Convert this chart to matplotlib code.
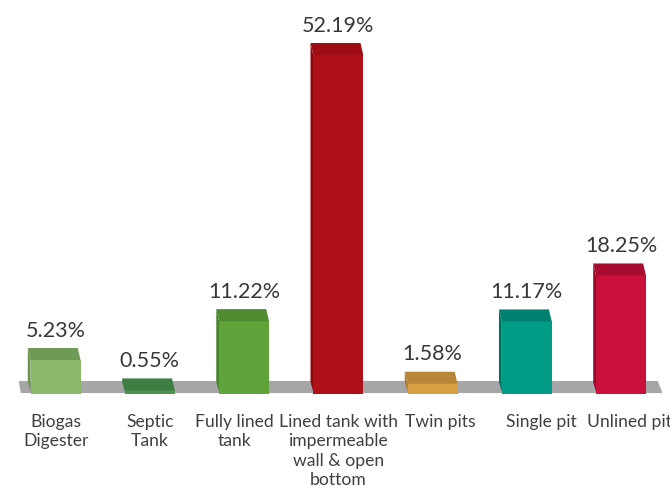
import matplotlib.pyplot as plt
from matplotlib.patches import Polygon

# data
categories = ['Biogas\nDigester', 'Septic\nTank', 'Fully lined\ntank',
              'Lined tank with\nimpermeable\nwall & open\nbottom',
              'Twin pits', 'Single pit', 'Unlined pit']
values = [5.23, 0.55, 11.22, 52.19, 1.58, 11.17, 18.25]
labels = ['5.23%', '0.55%', '11.22%', '52.19%', '1.58%', '11.17%', '18.25%']

front_colors = ['#8BB86A', '#4C9150', '#5FA33A', '#AE1118', '#D9A043', '#009C86', '#C9113B']
top_colors = ['#6F9A55', '#3F7E43', '#4E8B31', '#9D0D13', '#B88637', '#00806F', '#A80C31']
side_colors = ['#6A9450', '#3A7440', '#47822C', '#8E0B10', '#A77830', '#00705F', '#980A2C']

# small horizontal nudges of the category labels (Excel-like wrapping)
label_dx = [0, 0, -0.1, 0, 0.085, 0.15, 0.085]

plt.rcParams['font.family'] = ['Lato', 'DejaVu Sans']

fig = plt.figure(figsize=(6.7, 4.91), dpi=100)
ax = fig.add_axes([0, 0, 1, 1])
ax.set_xlim(-0.59, 6.52)
ax.set_ylim(-14.93, 60.66)
ax.axis('off')

depth = 1.85   # top face depth (value units)
shift = 0.03   # back edge shifted left (x units)
w = 0.53

# floor
n = len(values)
floor = Polygon([(-0.37, 0.15), (6.44, 0.15), (6.39, 2.0), (-0.39, 2.0)],
                closed=True, facecolor='#A6A6A9', edgecolor='none', zorder=1)
ax.add_patch(floor)

bars = ax.bar(range(n), values, width=w, color=front_colors, zorder=3)

for i, (b, v) in enumerate(zip(bars, values)):
    x0 = b.get_x()
    x1 = x0 + b.get_width()
    top = Polygon([(x0, v), (x1, v), (x1 - shift, v + depth), (x0 - shift, v + depth)],
                  closed=True, facecolor=top_colors[i], edgecolor='none', zorder=3)
    ax.add_patch(top)
    side = Polygon([(x0 - shift, depth), (x0, 0.3), (x0, v), (x0 - shift, v + depth)],
                   closed=True, facecolor=side_colors[i], edgecolor='none', zorder=2.5)
    ax.add_patch(side)
    ax.text(i, v + depth + 1.75, labels[i], ha='center', va='baseline',
            fontsize=15.5, color='#383838')
    ax.text(i + label_dx[i], -3.0, categories[i], ha='center', va='top', fontsize=12.6,
            color='#404040', linespacing=1.27)

fig.savefig('out.png', dpi=100)
